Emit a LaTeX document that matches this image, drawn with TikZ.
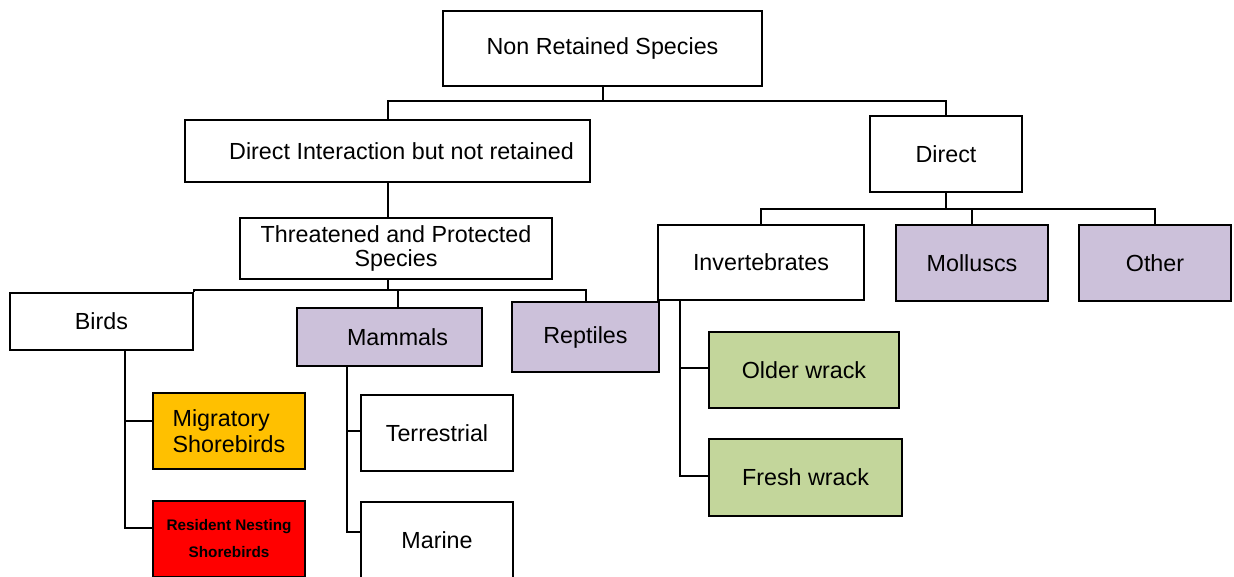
\documentclass[tikz,border=0pt]{standalone}
\usepackage{fontspec}
\setmainfont{Liberation Sans}
\definecolor{lavender}{HTML}{CCC1DA}
\definecolor{sage}{HTML}{C3D69B}
\definecolor{amber}{HTML}{FFC000}
\definecolor{alarm}{HTML}{FF0000}

\begin{document}
\begin{tikzpicture}[x=1pt,y=-1pt,
  box/.style={draw=black, line width=2.3pt, fill=white, inner sep=0pt,
    align=center, font=\fontsize{23.3}{25}\selectfont},
  wire/.style={draw=black, line width=2pt},
]
\useasboundingbox (0,0) rectangle (1234,576);

% level 0 and 1
\node[box, minimum width=319pt, minimum height=75pt] (top) at (602.5,48.5) {Non Retained Species};
\node[box, minimum width=405pt, minimum height=62pt] (dint) at (387.5,151) {\hspace*{28pt}Direct Interaction but not retained};
\node[box, minimum width=152pt, minimum height=76pt] (direct) at (946,154) {Direct};

% threatened and protected branch
\node[box, minimum width=312pt, minimum height=61pt, font=\fontsize{23.3}{24}\selectfont] (tps) at (396,248.5) {Threatened and Protected\\Species};
\node[box, minimum width=183pt, minimum height=57pt] (birds) at (101.5,321.5) {Birds};
\node[box, fill=lavender, minimum width=185pt, minimum height=58pt] (mammals) at (389.5,337) {\hspace*{16pt}Mammals};
\node[box, fill=lavender, minimum width=147pt, minimum height=70pt] (reptiles) at (585.5,337) {Reptiles};

\node[box, fill=amber, minimum width=152pt, minimum height=76pt, align=left, font=\fontsize{23.3}{26}\selectfont] (migratory) at (229,431) {Migratory\\Shorebirds};
\node[box, fill=alarm, minimum width=152pt, minimum height=76pt, font=\bfseries\fontsize{15.3}{27}\selectfont] (resident) at (229,539) {Resident Nesting\\Shorebirds};
\node[box, minimum width=152pt, minimum height=76pt] (terrestrial) at (437,433) {Terrestrial};
\node[box, minimum width=152pt, minimum height=76pt] (marine) at (437,540) {Marine};

% direct branch
\node[box, minimum width=206pt, minimum height=75pt] (invert) at (761,262.5) {Invertebrates};
\node[box, fill=lavender, minimum width=152pt, minimum height=76pt] (molluscs) at (972,263) {Molluscs};
\node[box, fill=lavender, minimum width=152pt, minimum height=76pt] (other) at (1155,263) {Other};
\node[box, fill=sage, minimum width=190pt, minimum height=76pt] (older) at (804,370) {Older wrack};
\node[box, fill=sage, minimum width=193pt, minimum height=77pt] (fresh) at (805.5,477.5) {Fresh wrack};

% bus levels and drop points
\coordinate (busA) at (0,101);
\coordinate (busB) at (0,290);
\coordinate (busC) at (0,209);
\coordinate (tpsout) at (dint.south |- tps.south);
\coordinate (mamtop) at ([xshift=8.5pt]mammals.north);
\coordinate (birdsdrop) at ([xshift=23.5pt]birds.south);
\coordinate (mamdrop) at ([xshift=-42.5pt]mammals.south);
\coordinate (invdrop) at ([xshift=-81pt]invert.south);

% connectors
\draw[wire] (top.south) |- (busA -| dint.north) -- (dint.north);
\draw[wire] (top.south) |- (busA -| direct.north) -- (direct.north);
\draw[wire] (dint.south) -- (dint.south |- tps.north);

\draw[wire] (tpsout) |- (busB -| birds.north east) -- (birds.north east);
\draw[wire] (tpsout) |- (busB -| mamtop) -- (mamtop);
\draw[wire] (tpsout) |- (busB -| reptiles.north) -- (reptiles.north);

\draw[wire] (direct.south) |- (busC -| invert.north) -- (invert.north);
\draw[wire] (direct.south) |- (busC -| molluscs.north) -- (molluscs.north);
\draw[wire] (direct.south) |- (busC -| other.north) -- (other.north);

\draw[wire] (birdsdrop) |- ([yshift=10pt]migratory.west);
\draw[wire] (birdsdrop) |- ([yshift=11pt]resident.west);
\draw[wire] (mamdrop) |- ([yshift=2pt]terrestrial.west);
\draw[wire] (mamdrop) |- ([yshift=8pt]marine.west);
\draw[wire] (invdrop) |- ([yshift=2pt]older.west);
\draw[wire] (invdrop) |- ([yshift=1.5pt]fresh.west);
\end{tikzpicture}
\end{document}
